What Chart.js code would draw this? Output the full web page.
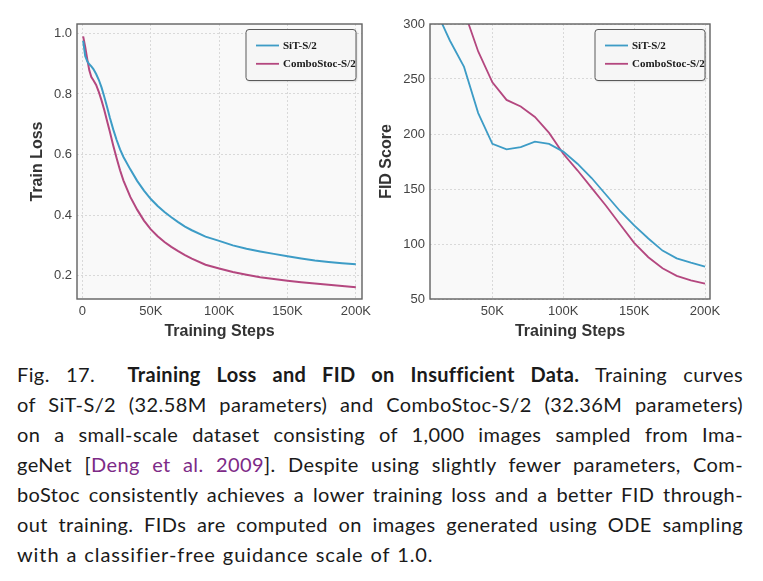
<!DOCTYPE html>
<html>
<head>
<meta charset="utf-8">
<script src="https://cdn.jsdelivr.net/npm/chart.js@4.4.1/dist/chart.umd.min.js"></script>
<style>
  html, body { margin: 0; padding: 0; background: #ffffff; }
  #wrap { position: relative; width: 763px; height: 581px; overflow: hidden; background: #fff; }
  #c1 { position: absolute; left: 0; top: 0; }
  #c2 { position: absolute; left: 372px; top: 0; }
  #caption {
    position: absolute; left: 17px; top: 359px; width: 726px;
    font-family: Lato, "Noto Sans", sans-serif; font-size: 20px; line-height: 30px; color: #1a1a1a;
    letter-spacing: 0.4px;
  }
  #caption .ln { text-align: justify; text-align-last: justify; white-space: normal; }
  #caption .ln.last { text-align-last: left; letter-spacing: 0.9px; word-spacing: 1px; }
  #caption b { font-weight: 700; letter-spacing: 0.3px; }
  #caption .cite { color: #7d2a87; }
</style>
</head>
<body>
<div id="wrap">
  <canvas id="c1" width="382" height="345"></canvas>
  <canvas id="c2" width="391" height="345"></canvas>
  <div id="caption">
    <div class="ln">Fig. 17.&nbsp; <b>Training Loss and FID on Insufficient Data.</b> Training curves</div>
    <div class="ln">of SiT-S/2 (32.58M parameters) and ComboStoc-S/2 (32.36M parameters)</div>
    <div class="ln">on a small-scale dataset consisting of 1,000 images sampled from Ima-</div>
    <div class="ln">geNet [<span class="cite">Deng et al. 2009</span>]. Despite using slightly fewer parameters, Com-</div>
    <div class="ln">boStoc consistently achieves a lower training loss and a better FID through-</div>
    <div class="ln">out training. FIDs are computed on images generated using ODE sampling</div>
    <div class="ln last">with a classifier-free guidance scale of 1.0.</div>
  </div>
</div>
<script>
// ---------------- DATA ----------------
const seriesNames = ["SiT-S/2", "ComboStoc-S/2"];

// Training loss (left panel)
const lossSteps = [500, 2000, 3500, 5000, 6500, 8000, 10000, 12000, 14000, 16000, 18000, 20000,
  22500, 25000, 27500, 30000, 35000, 40000, 45000, 50000, 55000, 60000, 65000, 70000, 75000,
  80000, 90000, 100000, 110000, 120000, 130000, 140000, 150000, 160000, 170000, 180000, 190000, 200000];
const sitLoss = [0.975, 0.925, 0.908, 0.898, 0.891, 0.882, 0.866, 0.846, 0.821, 0.790, 0.757, 0.722,
  0.683, 0.648, 0.617, 0.592, 0.551, 0.513, 0.481, 0.453, 0.430, 0.410, 0.393, 0.377, 0.362,
  0.350, 0.329, 0.315, 0.300, 0.289, 0.280, 0.272, 0.264, 0.257, 0.250, 0.245, 0.241, 0.238];
const comboLoss = [0.990, 0.955, 0.915, 0.878, 0.856, 0.845, 0.830, 0.806, 0.778, 0.746, 0.711, 0.676,
  0.630, 0.588, 0.548, 0.514, 0.460, 0.418, 0.382, 0.353, 0.330, 0.311, 0.295, 0.281, 0.268,
  0.256, 0.236, 0.224, 0.212, 0.203, 0.195, 0.189, 0.183, 0.178, 0.174, 0.170, 0.166, 0.162];

// FID (right panel)
const fidSteps = [10000, 20000, 30000, 40000, 50000, 60000, 70000, 80000, 90000, 100000,
  110000, 120000, 130000, 140000, 150000, 160000, 170000, 180000, 190000, 200000];
const sitFid = [313, 285, 261, 219, 191, 186, 188, 193, 191, 184,
  173, 160, 145, 130, 117, 105, 94, 87, 83, 79.5];
const comboFid = [null, null, 312, 275, 247, 231, 225, 215.5, 201, 182,
  167, 151, 135, 118, 101, 88, 78, 71, 67, 64];

// Tick labels / values
const lossXTicks = [0, 50000, 100000, 150000, 200000];
const lossYTicks = [0.2, 0.4, 0.6, 0.8, 1.0];
const fidXTicks = [50000, 100000, 150000, 200000];
const fidYTicks = [50, 100, 150, 200, 250, 300];

// ---------------- STYLE ----------------
const BLUE = '#3d9cc6';
const PINK = '#b4477f';
const tickFont = { family: '"Liberation Sans", Arial, sans-serif', size: 13 };
const titleFont = { family: '"Liberation Sans", Arial, sans-serif', size: 16, weight: 'bold' };

function kFmt(v) { return v === 0 ? '0' : (v / 1000) + 'K'; }
function pts(xs, ys) { return xs.map((x, i) => ({ x: x, y: ys[i] })); }

const framePlugin = {
  id: 'frameBg',
  beforeDraw(chart) {
    const { ctx, chartArea: a } = chart;
    ctx.save();
    ctx.fillStyle = '#f9f9f9';
    ctx.fillRect(a.left, a.top, a.right - a.left, a.bottom - a.top);
    ctx.restore();
  },
  afterDraw(chart) {
    const { ctx, chartArea: a } = chart;
    ctx.save();
    ctx.strokeStyle = '#626262';
    ctx.lineWidth = 1.4;
    ctx.strokeRect(a.left, a.top, a.right - a.left, a.bottom - a.top);
    ctx.restore();
  }
};

const legendBoxPlugin = {
  id: 'legendBox',
  afterDraw(chart, args, opts) {
    const { ctx, chartArea: a } = chart;
    const w = 110, h = 51;
    const x0 = a.right - opts.rightGap - w, y0 = a.top + 5.5;
    ctx.save();
    ctx.shadowColor = 'rgba(0,0,0,0.18)';
    ctx.shadowBlur = 2;
    ctx.shadowOffsetX = 1;
    ctx.shadowOffsetY = 1;
    ctx.beginPath();
    ctx.roundRect(x0, y0, w, h, 3);
    ctx.fillStyle = '#f6f6f6';
    ctx.fill();
    ctx.shadowColor = 'transparent';
    ctx.strokeStyle = '#5a5a5a';
    ctx.lineWidth = 1;
    ctx.stroke();
    ctx.font = 'bold 11px "Liberation Serif", "Times New Roman", serif';
    ctx.textBaseline = 'middle';
    ctx.fillStyle = '#1a1a1a';
    chart.data.datasets.forEach((ds, i) => {
      const yy = y0 + 16 + i * 18.3;
      ctx.strokeStyle = ds.borderColor;
      ctx.lineWidth = 1.8;
      ctx.beginPath();
      ctx.moveTo(x0 + 10, yy);
      ctx.lineTo(x0 + 33, yy);
      ctx.stroke();
      ctx.fillText(ds.label, x0 + 37, yy + 0.5);
    });
    ctx.restore();
  }
};

function makeChart(canvasId, cfg) {
  return new Chart(document.getElementById(canvasId), {
    type: 'line',
    data: {
      datasets: [
        { label: seriesNames[0], data: pts(cfg.xs, cfg.s1), borderColor: BLUE, borderWidth: cfg.lw,
          pointRadius: 0, tension: 0, fill: false, spanGaps: false },
        { label: seriesNames[1], data: pts(cfg.xs, cfg.s2), borderColor: PINK, borderWidth: cfg.lw,
          pointRadius: 0, tension: 0, fill: false, spanGaps: false }
      ]
    },
    options: {
      responsive: false,
      animation: false,
      parsing: true,
      layout: { padding: { left: 0, right: cfg.padRight, top: 24, bottom: 0 } },
      plugins: {
        legend: { display: false },
        tooltip: { enabled: false },
        legendBox: { rightGap: cfg.legendGap }
      },
      scales: {
        x: {
          type: 'linear',
          min: cfg.xmin, max: cfg.xmax,
          afterBuildTicks(scale) { scale.ticks = cfg.xTicks.map(v => ({ value: v })); },
          afterFit(scale) { scale.height = 46; scale.paddingLeft = 0; scale.paddingRight = 0; },
          ticks: { font: tickFont, color: '#444', padding: 5, maxRotation: 0, autoSkip: false,
            callback: v => kFmt(v) },
          grid: { color: '#d9d9d9', lineWidth: 1, drawTicks: false },
          border: { display: false, dash: [2, 2] },
          title: { display: true, text: 'Training Steps', font: titleFont, color: '#333',
            padding: { top: 0, bottom: 4 } }
        },
        y: {
          type: 'linear',
          min: cfg.ymin, max: cfg.ymax,
          afterBuildTicks(scale) { scale.ticks = cfg.yTicks.map(v => ({ value: v })); },
          afterFit(scale) { scale.width = cfg.yw; scale.paddingTop = 0; scale.paddingBottom = 0; },
          ticks: { font: tickFont, color: '#444', padding: 5, autoSkip: false,
            callback: cfg.yFmt },
          grid: { color: '#d9d9d9', lineWidth: 1, drawTicks: false },
          border: { display: false, dash: [2, 2] },
          title: { display: true, text: cfg.yTitle, font: titleFont, color: '#333',
            padding: { top: cfg.yTitlePad, bottom: 0 } }
        }
      }
    },
    plugins: [framePlugin, legendBoxPlugin]
  });
}

makeChart('c1', {
  xs: lossSteps, s1: sitLoss, s2: comboLoss, lw: 2,
  xmin: -4000, xmax: 204500, ymin: 0.123, ymax: 1.031,
  xTicks: lossXTicks, yTicks: lossYTicks,
  yFmt: v => v.toFixed(1),
  yw: 77, padRight: 20, yTitle: 'Train Loss', yTitlePad: 28, legendGap: 6
});

makeChart('c2', {
  xs: fidSteps, s1: sitFid, s2: comboFid, lw: 1.8,
  xmin: 6000, xmax: 203500, ymin: 50, ymax: 300,
  xTicks: fidXTicks, yTicks: fidYTicks,
  yFmt: v => String(v),
  yw: 58, padRight: 53, yTitle: 'FID Score', yTitlePad: 5, legendGap: 5
});
</script>
</body>
</html>
